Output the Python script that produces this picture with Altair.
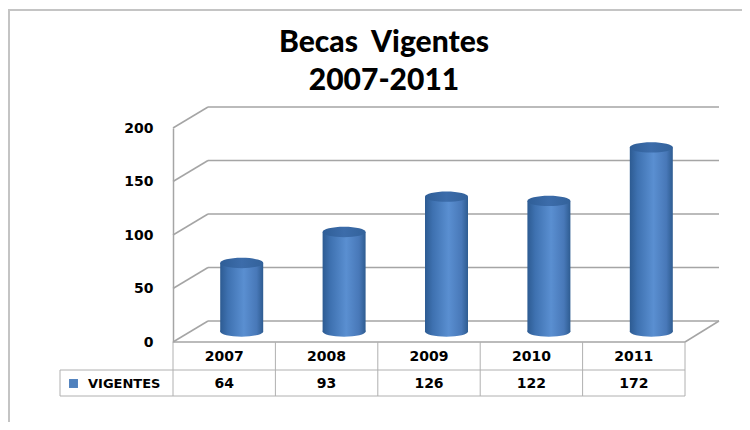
import altair as alt
import pandas as pd

# ---- data ----
years = ["2007", "2008", "2009", "2010", "2011"]
vigentes = [64, 93, 126, 122, 172]
series_name = "VIGENTES"
y_ticks = [0, 50, 100, 150, 200]
title_lines = ["Becas\u00a0 Vigentes", "2007-2011"]

df = pd.DataFrame({"year": years, "v": vigentes, "serie": [series_name] * len(years)})
ticks = pd.DataFrame({"v": y_ticks})
floor = pd.DataFrame({"v": [0]})
last = df[df["year"] == years[-1]]
one = pd.DataFrame({"k": [0]})

W, H = 512, 214
DX, DY = 35, -21          # depth of the 3-D box
MX, MY = DX / 2, DY / 2   # cylinders stand half-way in depth
GRID = "#a5a5a5"
TABLE = "#b0b0b0"
FONT = "DejaVu Sans"

xscale = alt.Scale(domain=years, paddingInner=0, paddingOuter=0)
yscale = alt.Scale(domain=[0, 200], nice=False, zero=True)
yaxis = alt.Axis(values=y_ticks, domain=True, domainColor=GRID, domainWidth=1.5,
                 ticks=False, grid=False, labelPadding=20, labelFont=FONT,
                 labelFontWeight="bold", labelFontSize=14, labelColor="black",
                 title=None)
X = alt.X("year:O", scale=xscale, axis=None)
Y = alt.Y("v:Q", scale=yscale, axis=yaxis)

body_grad = alt.Gradient(
    gradient="linear", x1=0, x2=1, y1=0, y2=0,
    stops=[alt.GradientStop(color="#2d5b92", offset=0),
           alt.GradientStop(color="#3e71b0", offset=0.18),
           alt.GradientStop(color="#5a8fd1", offset=0.55),
           alt.GradientStop(color="#4878b8", offset=0.85),
           alt.GradientStop(color="#2e5c91", offset=1)])
top_grad = alt.Gradient(
    gradient="linear", x1=0, x2=1, y1=0, y2=0,
    stops=[alt.GradientStop(color="#2f5e97", offset=0),
           alt.GradientStop(color="#3c6caa", offset=0.5),
           alt.GradientStop(color="#33629b", offset=1)])
ELLIPSE = "M-1,0 A1,0.24,0,1,0,1,0 A1,0.24,0,1,0,-1,0 Z"
CYL_W = 43

# outer frame of the chart area
frame_left = alt.Chart(one).mark_rule(color="#c4c4c4", strokeWidth=2).encode(
    x=alt.value(-164), y=alt.value(-118), y2=alt.value(300))
frame_top = alt.Chart(one).mark_rule(color="#c4c4c4", strokeWidth=2).encode(
    x=alt.value(-165), x2=alt.value(600), y=alt.value(-118))

# back wall gridlines
back_grid = alt.Chart(ticks).mark_rule(
    color=GRID, strokeWidth=1.5, xOffset=DX, x2Offset=DX, yOffset=DY).encode(
    y=Y, x=alt.value(0), x2=alt.value(W - 1))
# side wall diagonals
side = alt.Chart(ticks).mark_rule(
    color=GRID, strokeWidth=1.5, x2Offset=DX, y2Offset=DY).encode(
    y=Y, y2=alt.Y2("v"), x=alt.value(0), x2=alt.value(0))
# right floor edge
floor_right = alt.Chart(floor).mark_rule(
    color=GRID, strokeWidth=1.5, x2Offset=DX - 1, y2Offset=DY).encode(
    y=Y, y2=alt.Y2("v"), x=alt.value(W), x2=alt.value(W))

# cylinders
cyl_bottom = alt.Chart(df).mark_point(
    shape=ELLIPSE, size=CYL_W ** 2, filled=True, opacity=1, color=body_grad,
    xOffset=MX, yOffset=MY).encode(
    x=X, y=alt.Y("zero:Q", scale=yscale, axis=yaxis)).transform_calculate(zero="0")
cyl_body = alt.Chart(df).mark_bar(
    size=CYL_W, color=body_grad, xOffset=MX, yOffset=MY, y2Offset=MY).encode(
    x=X, y=Y, y2=alt.datum(0))
cyl_top = alt.Chart(df).mark_point(
    shape=ELLIPSE, size=CYL_W ** 2, filled=True, opacity=1, color=top_grad,
    xOffset=MX, yOffset=MY).encode(x=X, y=Y)

# legend carrier (invisible) -> legend in the data table
legend_layer = alt.Chart(df).mark_square(opacity=0).encode(
    x=X, y=Y,
    color=alt.Color("serie:N", scale=alt.Scale(range=["#4f81bd"]),
                    legend=alt.Legend(orient="none", legendX=-106, legendY=249,
                                      title=None, symbolType="square",
                                      symbolSize=80, symbolOpacity=1,
                                      symbolStrokeWidth=0, padding=0,
                                      labelFont=FONT, labelFontWeight="bold",
                                      labelFontSize=13, labelColor="black",
                                      labelOffset=8)))

# data table
ROW1_TOP, ROW2_TOP, ROW2_BOT = H, 242, 268
LEG_LEFT = -113
h_front = alt.Chart(one).mark_rule(color=GRID, strokeWidth=1.5).encode(
    x=alt.value(0), x2=alt.value(W), y=alt.value(ROW1_TOP))
h_mid = alt.Chart(one).mark_rule(color=TABLE, strokeWidth=1).encode(
    x=alt.value(LEG_LEFT), x2=alt.value(W), y=alt.value(ROW2_TOP))
h_bot = alt.Chart(one).mark_rule(color=TABLE, strokeWidth=1).encode(
    x=alt.value(LEG_LEFT), x2=alt.value(W), y=alt.value(ROW2_BOT))
v_cols = alt.Chart(df).mark_rule(color=TABLE, strokeWidth=1).encode(
    x=alt.X("year:O", scale=xscale, axis=None, bandPosition=0),
    y=alt.value(ROW1_TOP), y2=alt.value(ROW2_BOT))
v_last = alt.Chart(last).mark_rule(color=TABLE, strokeWidth=1).encode(
    x=alt.X("year:O", scale=xscale, axis=None, bandPosition=1),
    y=alt.value(ROW1_TOP), y2=alt.value(ROW2_BOT))
v_leg = alt.Chart(one).mark_rule(color=TABLE, strokeWidth=1).encode(
    x=alt.value(LEG_LEFT), y=alt.value(ROW2_TOP), y2=alt.value(ROW2_BOT))
year_txt = alt.Chart(df).mark_text(
    font=FONT, fontWeight="bold", fontSize=14, color="black", baseline="middle").encode(
    x=X, y=alt.value((ROW1_TOP + ROW2_TOP) / 2 + 1), text="year:N")
val_txt = alt.Chart(df).mark_text(
    font=FONT, fontWeight="bold", fontSize=14, color="black", baseline="middle").encode(
    x=X, y=alt.value((ROW2_TOP + ROW2_BOT) / 2 + 1), text="v:Q")

# title
title = alt.Chart(one).mark_text(
    text=title_lines, font="Lato", fontWeight=900, fontSize=30,
    lineHeight=38, color="black", baseline="alphabetic", align="center").encode(
    x=alt.value(211), y=alt.value(-76))

chart = alt.layer(
    frame_left, frame_top, back_grid, side, floor_right,
    cyl_bottom, cyl_body, cyl_top, legend_layer,
    h_front, h_mid, h_bot, v_cols, v_last, v_leg, year_txt, val_txt, title,
).properties(
    width=W, height=H,
    autosize=alt.AutoSizeParams(type="none"),
    padding={"left": 165, "top": 120, "right": 57, "bottom": 80},
    background="white",
).configure_view(strokeWidth=0)

chart.save("out.html", embed_options={"renderer": "svg", "actions": False})
